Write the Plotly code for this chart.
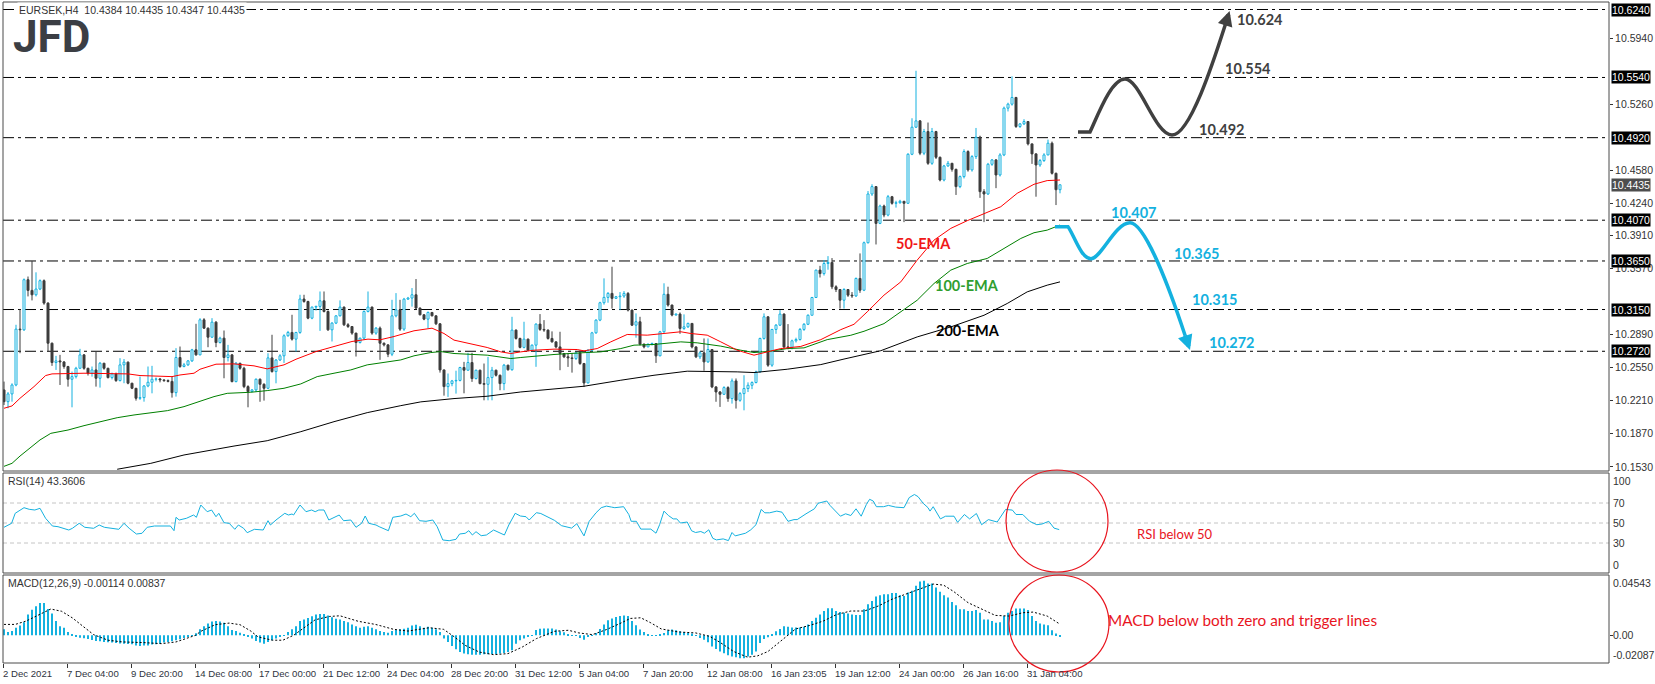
import plotly.graph_objects as go

# ---------------- data ----------------
title_text = "EURSEK,H4  10.4384 10.4435 10.4347 10.4435"
first_open = 10.2322
closes = [
    10.2201, 10.2281, 10.2373, 10.2948, 10.2941, 10.3457, 10.3347, 10.3302, 10.3361, 10.3447,
    10.3216, 10.2803, 10.2604, 10.2621, 10.2610, 10.2563, 10.2432, 10.2459, 10.2545, 10.2683,
    10.2545, 10.2494, 10.2528, 10.2442, 10.2597, 10.2545, 10.2449, 10.2487, 10.2418, 10.2580,
    10.2608, 10.2391, 10.2339, 10.2236, 10.2243, 10.2363, 10.2401, 10.2432, 10.2435, 10.2425,
    10.2418, 10.2410, 10.2294, 10.2656, 10.2563, 10.2580, 10.2621, 10.2735, 10.2683, 10.3044,
    10.2958, 10.2865, 10.3020, 10.2810, 10.2855, 10.2656, 10.2683, 10.2408, 10.2597, 10.2545,
    10.2356, 10.2305, 10.2322, 10.2432, 10.2380, 10.2339, 10.2652, 10.2511, 10.2630, 10.2673,
    10.2880, 10.2914, 10.2845, 10.2914, 10.3258, 10.3233, 10.3061, 10.3175, 10.3182, 10.3240,
    10.3130, 10.2941, 10.3010, 10.3085, 10.3175, 10.2993, 10.2975, 10.2907, 10.2810, 10.2855,
    10.3130, 10.3175, 10.2907, 10.2958, 10.2803, 10.2786, 10.2690, 10.3085, 10.3147, 10.2948,
    10.3257, 10.3268, 10.3302, 10.3165, 10.3096, 10.3051, 10.3120, 10.3085, 10.3003, 10.2528,
    10.2356, 10.2387, 10.2415, 10.2420, 10.2553, 10.2525, 10.2604, 10.2439, 10.2525, 10.2387,
    10.2380, 10.2449, 10.2525, 10.2473, 10.2387, 10.2577, 10.2530, 10.2938, 10.2852, 10.2760,
    10.2845, 10.2731, 10.2783, 10.3000, 10.2945, 10.2938, 10.2852, 10.2817, 10.2765, 10.2697,
    10.2663, 10.2652, 10.2645, 10.2704, 10.2594, 10.2394, 10.2731, 10.2910, 10.3041, 10.3220,
    10.3275, 10.3316, 10.3265, 10.3282, 10.3289, 10.3316, 10.3144, 10.2989, 10.3024, 10.2793,
    10.2765, 10.2793, 10.2800, 10.2673, 10.2921, 10.3307, 10.3196, 10.3093, 10.3103, 10.2955,
    10.2972, 10.3007, 10.2765, 10.2663, 10.2704, 10.2611, 10.2738, 10.2353, 10.2301, 10.2277,
    10.2346, 10.2233, 10.2415, 10.2215, 10.2284, 10.2336, 10.2370, 10.2398, 10.2508, 10.2852,
    10.3075, 10.2577, 10.2945, 10.2989, 10.3103, 10.2765, 10.2760, 10.2828, 10.2841, 10.2945,
    10.2998, 10.3091, 10.3274, 10.3556, 10.3520, 10.3624, 10.3635, 10.3384, 10.3356, 10.3246,
    10.3356, 10.3298, 10.3290, 10.3470, 10.3349, 10.3838, 10.4340, 10.4416, 10.4037, 10.4216,
    10.4123, 10.4312, 10.4244, 10.4250, 10.4265, 10.4244, 10.4749, 10.5028, 10.5093, 10.4760,
    10.4983, 10.4656, 10.4983, 10.4718, 10.4484, 10.4629, 10.4656, 10.4594, 10.4416, 10.4519,
    10.4777, 10.4588, 10.4725, 10.4925, 10.4364, 10.4340, 10.4646, 10.4691, 10.4536, 10.4742,
    10.5224, 10.5265, 10.5334, 10.5035, 10.5062, 10.5086, 10.4856, 10.4753, 10.4639, 10.4684,
    10.4742, 10.4863, 10.4553, 10.4384, 10.4435,
]
highs = [
    10.2408, 10.2300, 10.2390, 10.2993, 10.3155, 10.3470, 10.3490, 10.3650, 10.3533, 10.3460,
    10.3460, 10.3225, 10.2810, 10.2673, 10.2683, 10.2620, 10.2570, 10.2511, 10.2560, 10.2745,
    10.2690, 10.2550, 10.2563, 10.2717, 10.2610, 10.2600, 10.2550, 10.2500, 10.2500, 10.2649,
    10.2640, 10.2615, 10.2395, 10.2342, 10.2459, 10.2370, 10.2563, 10.2570, 10.2450, 10.2445,
    10.2430, 10.2430, 10.2459, 10.2752, 10.2769, 10.2600, 10.2630, 10.2745, 10.3003, 10.3061,
    10.3061, 10.2965, 10.3061, 10.3030, 10.2870, 10.2934, 10.2786, 10.2690, 10.2610, 10.2600,
    10.2560, 10.2370, 10.2330, 10.2440, 10.2440, 10.2390, 10.2700, 10.2890, 10.2640, 10.2690,
    10.2895, 10.2930, 10.3096, 10.2920, 10.3302, 10.3302, 10.3240, 10.3180, 10.3190, 10.3336,
    10.3336, 10.3140, 10.3020, 10.3090, 10.3244, 10.3180, 10.3010, 10.2980, 10.2910, 10.2860,
    10.3140, 10.3336, 10.3180, 10.2970, 10.2975, 10.2810, 10.2790, 10.3250, 10.3319, 10.3250,
    10.3270, 10.3280, 10.3371, 10.3464, 10.3170, 10.3100, 10.3130, 10.3120, 10.3090, 10.3010,
    10.2530, 10.2491, 10.2425, 10.2520, 10.2560, 10.2611, 10.2704, 10.2704, 10.2530, 10.2530,
    10.2594, 10.2662, 10.2559, 10.2530, 10.2480, 10.2590, 10.2580, 10.3075, 10.2945, 10.2860,
    10.3024, 10.2850, 10.2790, 10.3007, 10.3103, 10.3041, 10.2945, 10.2925, 10.2820, 10.2921,
    10.2700, 10.2700, 10.2700, 10.2711, 10.2730, 10.2600, 10.2740, 10.2920, 10.3050, 10.3230,
    10.3471, 10.3330, 10.3591, 10.3290, 10.3330, 10.3340, 10.3330, 10.3150, 10.3110, 10.3075,
    10.2800, 10.2800, 10.2810, 10.2800, 10.2930, 10.3420, 10.3385, 10.3200, 10.3110, 10.3120,
    10.3100, 10.3015, 10.3010, 10.2770, 10.2720, 10.2852, 10.2852, 10.2740, 10.2360, 10.2310,
    10.2360, 10.2360, 10.2440, 10.2440, 10.2300, 10.2473, 10.2400, 10.2410, 10.2520, 10.2860,
    10.3110, 10.3080, 10.2950, 10.3000, 10.3144, 10.3110, 10.3000, 10.2840, 10.2860, 10.2960,
    10.3010, 10.3100, 10.3280, 10.3560, 10.3600, 10.3660, 10.3700, 10.3680, 10.3400, 10.3360,
    10.3370, 10.3360, 10.3330, 10.3480, 10.3728, 10.3850, 10.4370, 10.4440, 10.4420, 10.4230,
    10.4230, 10.4330, 10.4320, 10.4270, 10.4280, 10.4260, 10.4760, 10.5120, 10.5609, 10.5100,
    10.5010, 10.5076, 10.5020, 10.4990, 10.4725, 10.4640, 10.4680, 10.4660, 10.4600, 10.4530,
    10.4800, 10.4790, 10.4740, 10.5020, 10.4940, 10.4390, 10.4660, 10.4700, 10.4700, 10.4760,
    10.5240, 10.5280, 10.5551, 10.5340, 10.5070, 10.5110, 10.5090, 10.4860, 10.4760, 10.4700,
    10.4760, 10.4900, 10.4880, 10.4560, 10.4435,
]
lows = [
    10.2167, 10.2133, 10.2201, 10.2360, 10.2700, 10.2930, 10.3285, 10.3244, 10.3285, 10.3350,
    10.3199, 10.2717, 10.2570, 10.2528, 10.2373, 10.2540, 10.2356, 10.2143, 10.2440, 10.2540,
    10.2530, 10.2470, 10.2459, 10.2356, 10.2346, 10.2530, 10.2440, 10.2430, 10.2405, 10.2410,
    10.2391, 10.2380, 10.2330, 10.2212, 10.2219, 10.2201, 10.2350, 10.2287, 10.2410, 10.2400,
    10.2405, 10.2400, 10.2243, 10.2253, 10.2550, 10.2555, 10.2570, 10.2610, 10.2675, 10.2680,
    10.2950, 10.2762, 10.2860, 10.2762, 10.2800, 10.2442, 10.2615, 10.2400, 10.2400, 10.2530,
    10.2340, 10.2143, 10.2300, 10.2300, 10.2200, 10.2212, 10.2330, 10.2500, 10.2390, 10.2620,
    10.2600, 10.2870, 10.2830, 10.2717, 10.2900, 10.3220, 10.3050, 10.3050, 10.3140, 10.2930,
    10.3120, 10.2930, 10.2821, 10.3000, 10.3080, 10.2980, 10.2960, 10.2890, 10.2666, 10.2800,
    10.2840, 10.3120, 10.2890, 10.2890, 10.2632, 10.2770, 10.2660, 10.2670, 10.3070, 10.2930,
    10.2930, 10.3250, 10.3180, 10.3150, 10.3090, 10.3040, 10.2958, 10.3080, 10.2990, 10.2500,
    10.2263, 10.2250, 10.2360, 10.2284, 10.2410, 10.2287, 10.2520, 10.2405, 10.2430, 10.2380,
    10.2215, 10.2215, 10.2215, 10.2460, 10.2319, 10.2319, 10.2520, 10.2520, 10.2840, 10.2750,
    10.2750, 10.2720, 10.2720, 10.2560, 10.2930, 10.2920, 10.2840, 10.2810, 10.2750, 10.2525,
    10.2650, 10.2559, 10.2500, 10.2630, 10.2580, 10.2353, 10.2390, 10.2720, 10.2900, 10.3030,
    10.3200, 10.3220, 10.3160, 10.3260, 10.3144, 10.3270, 10.3130, 10.2980, 10.2860, 10.2780,
    10.2750, 10.2765, 10.2780, 10.2600, 10.2670, 10.2910, 10.3180, 10.3080, 10.3090, 10.2900,
    10.2940, 10.2960, 10.2750, 10.2650, 10.2640, 10.2520, 10.2600, 10.2340, 10.2200, 10.2147,
    10.2270, 10.2200, 10.2181, 10.2130, 10.2200, 10.2112, 10.2300, 10.2330, 10.2390, 10.2500,
    10.2840, 10.2560, 10.2560, 10.2900, 10.2980, 10.2750, 10.2740, 10.2740, 10.2810, 10.2830,
    10.2930, 10.2990, 10.3090, 10.3270, 10.3480, 10.3500, 10.3560, 10.3360, 10.3330, 10.3160,
    10.3160, 10.3280, 10.3270, 10.3280, 10.3322, 10.3340, 10.3830, 10.4320, 10.3820, 10.4030,
    10.4100, 10.4110, 10.4230, 10.4200, 10.4240, 10.4050, 10.4240, 10.4740, 10.5020, 10.4740,
    10.4740, 10.4640, 10.4640, 10.4700, 10.4470, 10.4470, 10.4620, 10.4570, 10.4330, 10.4400,
    10.4500, 10.4570, 10.4570, 10.4700, 10.4300, 10.4050, 10.4330, 10.4630, 10.4400, 10.4520,
    10.4730, 10.5190, 10.5250, 10.5020, 10.5020, 10.5050, 10.4840, 10.4650, 10.4312, 10.4620,
    10.4670, 10.4740, 10.4540, 10.4226, 10.4347,
]

ema50_bar = [0, 2, 4, 7.5, 10.4, 12, 20, 31, 34, 42, 44, 47.5, 49, 53, 57.5, 62.5, 65.8, 70, 73, 78,
             82.5, 87, 91, 94, 97.5, 102.5, 107, 110, 112.5, 116.7, 120.8, 124.2, 126.7, 129.2, 132.5,
             137.5, 143.3, 145, 148.3, 151.7, 155.8, 160.8, 165.8, 169.2, 171.7, 175.8, 179.2, 183.3,
             187.5, 190.8, 194.2, 199.2, 204.2, 209.2, 212.5, 215.8, 220, 224.2, 228.3, 232.5, 236.7,
             240.8, 245, 249.2, 253.3, 257.5, 260.8, 264]
ema50_val = [10.2133, 10.2157, 10.2236, 10.2356, 10.2470, 10.2487, 10.2494, 10.2487, 10.2470, 10.2459,
             10.2476, 10.2494, 10.2535, 10.2587, 10.2590, 10.2570, 10.2539, 10.2580, 10.2638, 10.2717,
             10.2769, 10.2821, 10.2845, 10.2838, 10.2872, 10.2931, 10.2958, 10.2903, 10.2835, 10.2800,
             10.2759, 10.2714, 10.2697, 10.2714, 10.2731, 10.2742, 10.2738, 10.2724, 10.2748, 10.2817,
             10.2893, 10.2886, 10.2910, 10.2921, 10.2903, 10.2886, 10.2817, 10.2731, 10.2680, 10.2714,
             10.2748, 10.2770, 10.2840, 10.2943, 10.2998, 10.3126, 10.3298, 10.3435, 10.3659, 10.3865,
             10.3986, 10.4065, 10.4133, 10.4209, 10.4347, 10.4440, 10.4478, 10.4484]
ema100_bar = [0, 2, 4, 7.5, 9, 11.7, 16, 20, 24.2, 28.3, 32.5, 36.7, 40.9, 45, 49.2, 52.5, 55.8, 61.7,
              65.8, 70, 74.2, 78.3, 82.5, 86.7, 90.8, 95, 99.2, 102.5, 106.7, 109.2, 112.5, 120.8, 126.7,
              129.2, 137.5, 144.2, 149.2, 154.2, 157.5, 162.5, 169.2, 173.3, 179.2, 184.2, 187.5, 191.7,
              195.8, 200, 205.8, 211.7, 215, 220, 224.2, 228.3, 232.5, 236.7, 240.8, 245.8, 250, 254.2,
              257.5, 260.8, 264]
ema100_val = [10.1535, 10.1566, 10.1641, 10.1755, 10.1807, 10.1875, 10.1909, 10.1954, 10.1995, 10.2036,
              10.2064, 10.2088, 10.2109, 10.2150, 10.2208, 10.2253, 10.2287, 10.2298, 10.2315, 10.2339,
              10.2384, 10.2459, 10.2494, 10.2528, 10.2580, 10.2607, 10.2631, 10.2673, 10.2707, 10.2717,
              10.2697, 10.2680, 10.2645, 10.2656, 10.2687, 10.2704, 10.2714, 10.2748, 10.2783, 10.2790,
              10.2817, 10.2807, 10.2773, 10.2731, 10.2707, 10.2721, 10.2748, 10.2755, 10.2840, 10.2885,
              10.2926, 10.3005, 10.3126, 10.3246, 10.3418, 10.3556, 10.3624, 10.3676, 10.3779, 10.3882,
              10.3941, 10.3968, 10.4020]
ema200_bar = [28.3, 36.7, 45, 52.5, 57.5, 65.8, 74.2, 82.5, 90.8, 99.2, 104.2, 112.5, 120.8, 129.2, 137.5,
              145, 154.2, 162.5, 170.8, 175, 183.3, 187.5, 191.7, 195.8, 200, 204.2, 210, 219.2, 228.3,
              236.7, 245, 250.8, 255.8, 260.8, 264]
ema200_val = [10.1505, 10.1566, 10.1652, 10.1709, 10.1744, 10.1799, 10.1892, 10.1995, 10.2088, 10.2160,
              10.2199, 10.2233, 10.2257, 10.2301, 10.2336, 10.2360, 10.2422, 10.2473, 10.2515, 10.2515,
              10.2508, 10.2501, 10.2515, 10.2535, 10.2559, 10.2583, 10.2640, 10.2726, 10.2868, 10.2971,
              10.3091, 10.3212, 10.3332, 10.3401, 10.3435]

rsi_bar = [0, 1.9, 2.8, 5.0, 6.3, 7.7, 9.0, 10.4, 12.1, 13.5, 16.2, 17.1, 18.8, 20.2, 22.4, 23.8, 25.1,
           27.3, 28.7, 30.0, 31.3, 33.1, 34.5, 35.8, 37.6, 41.6, 42.5, 43.0, 43.8, 45.6, 47.4, 48.1, 49.2,
           50.8, 51.9, 53.0, 53.7, 55.0, 56.3, 57.7, 58.6, 59.9, 60.8, 61.7, 62.6, 64.8, 66.0, 66.6, 68.0,
           70.2, 71.1, 72.0, 72.4, 74.0, 75.5, 76.9, 77.8, 78.7, 80.0, 81.2, 82.7, 83.8, 84.9, 86.7, 88.0,
           89.4, 90.3, 91.2, 93.0, 93.8, 96.1, 97.2, 99.2, 100.5, 101.7, 102.6, 103.9, 105.5, 107.2, 108.3,
           109.7, 111.3, 113.0, 113.9, 115.3, 116.2, 117.1, 118.0, 119.3, 120.6, 122.4, 123.8, 125.1, 126.2,
           127.8, 129.1, 130.5, 131.3, 133.1, 134.2, 135.9, 137.6, 139.4, 141.1, 141.9, 143.2, 144.1, 145.0,
           146.3, 148.0, 149.3, 150.6, 151.9, 152.7, 154.9, 156.2, 156.8, 158.1, 159.2, 161.7, 163.0, 163.9,
           165.0, 166.1, 167.3, 168.2, 169.1, 170.8, 171.9, 172.9, 174.2, 175.1, 176.2, 177.2, 178.1, 179.8,
           181.1, 182.0, 182.8, 183.7, 185.4, 186.7, 188.0, 189.3, 190.2, 191.4, 193.2, 194.5, 196.0, 197.5,
           198.3, 200.5, 202.6, 203.5, 205.7, 206.5, 208.2, 209.1, 210.4, 211.7, 213.0, 214.3, 215.6, 216.4,
           217.3, 218.1, 219.9, 221.1, 222.9, 225.0, 226.3, 227.6, 228.5, 229.8, 231.0, 231.5, 232.3, 234.1,
           235.4, 237.5, 238.4, 240.1, 241.4, 243.1, 244.4, 246.1, 248.3, 250.4, 252.1, 253.0, 254.7, 256.4,
           258.2, 259.5, 261.2, 262.5, 263.8]
rsi_val = [45.7, 49.7, 59.7, 65.3, 63.7, 63.0, 64.7, 54.7, 47.0, 46.3, 43.0, 44.7, 49.7, 45.7, 44.7, 48.0,
           45.7, 44.7, 43.7, 49.7, 44.7, 39.0, 39.7, 45.7, 47.0, 47.0, 42.3, 55.7, 53.0, 54.7, 58.0, 55.7,
           68.0, 61.3, 63.0, 56.3, 59.7, 50.3, 49.7, 43.7, 48.0, 44.7, 40.3, 42.0, 43.7, 43.0, 52.3, 48.0,
           53.0, 59.7, 58.0, 59.0, 58.0, 68.0, 61.3, 63.0, 61.3, 63.0, 63.0, 53.0, 55.7, 58.0, 52.3, 53.0,
           45.7, 49.7, 57.0, 49.7, 48.0, 46.3, 42.3, 55.7, 57.0, 59.0, 56.3, 59.7, 52.3, 51.7, 53.0, 46.3,
           33.0, 32.3, 33.7, 39.0, 39.7, 42.3, 38.0, 41.3, 37.3, 38.0, 43.0, 40.3, 38.0, 48.0, 59.7, 57.0,
           56.3, 53.0, 60.3, 59.5, 56.1, 52.7, 47.3, 45.9, 44.9, 49.3, 43.2, 37.1, 51.7, 60.2, 65.3, 66.9,
           65.9, 65.3, 66.3, 58.5, 51.7, 51.7, 43.9, 43.9, 39.8, 48.3, 61.9, 57.5, 54.1, 54.1, 50.0, 51.0,
           42.2, 40.5, 41.5, 39.8, 43.2, 34.7, 33.1, 34.1, 32.4, 40.5, 37.1, 38.1, 39.8, 43.2, 48.3, 63.6,
           60.2, 60.2, 61.9, 60.8, 51.7, 53.4, 53.4, 59.2, 64.2, 69.7, 72.0, 67.6, 60.8, 56.8, 59.2, 57.5,
           64.2, 56.8, 68.6, 73.7, 72.0, 66.3, 66.3, 67.6, 65.9, 65.3, 75.4, 78.5, 76.4, 69.7, 65.3, 61.9,
           66.3, 54.1, 56.8, 56.8, 50.7, 58.5, 54.1, 59.5, 48.3, 53.4, 51.0, 63.6, 62.9, 58.5, 58.5, 51.7,
           48.3, 49.0, 51.7, 44.9, 43.4]

macd_hist = [
    0.0045, 0.0025, 0.0032, 0.0057, 0.0074, 0.0099, 0.0156, 0.0193, 0.0218, 0.0243,
    0.0243, 0.0198, 0.0164, 0.0107, 0.0069, 0.0057, 0.0025, 0.0007, -0.0012, -0.0018,
    -0.0022, -0.0028, -0.0035, -0.0043, -0.0045, -0.0050, -0.0052, -0.0055, -0.0058, -0.0061,
    -0.0063, -0.0065, -0.0068, -0.0076, -0.0080, -0.0077, -0.0076, -0.0070, -0.0068, -0.0063,
    -0.0055, -0.0050, -0.0045, -0.0037, -0.0030, -0.0021, -0.0012, -0.0005, 0.0015, 0.0045,
    0.0069, 0.0089, 0.0104, 0.0107, 0.0104, 0.0094, 0.0069, 0.0040, 0.0032, 0.0020,
    0.0007, -0.0007, -0.0025, -0.0043, -0.0055, -0.0063, -0.0050, -0.0037, -0.0025, -0.0012,
    -0.0003, 0.0025, 0.0045, 0.0069, 0.0107, 0.0119, 0.0131, 0.0144, 0.0156, 0.0161,
    0.0161, 0.0149, 0.0136, 0.0124, 0.0119, 0.0107, 0.0099, 0.0082, 0.0069, 0.0057,
    0.0064, 0.0069, 0.0057, 0.0045, 0.0032, 0.0025, 0.0020, 0.0032, 0.0040, 0.0045,
    0.0050, 0.0057, 0.0074, 0.0079, 0.0069, 0.0057, 0.0064, 0.0057, 0.0045, 0.0025,
    -0.0025, -0.0050, -0.0080, -0.0105, -0.0126, -0.0138, -0.0143, -0.0146, -0.0146, -0.0146,
    -0.0143, -0.0143, -0.0141, -0.0141, -0.0138, -0.0133, -0.0126, -0.0113, -0.0063, -0.0037,
    -0.0025, -0.0012, -0.0005, 0.0040, 0.0050, 0.0051, 0.0051, 0.0051, 0.0043, 0.0030,
    0.0023, 0.0003, 0.0002, 0.0001, -0.0020, -0.0033, -0.0008, 0.0002, 0.0018, 0.0048,
    0.0081, 0.0114, 0.0127, 0.0137, 0.0145, 0.0150, 0.0145, 0.0107, 0.0076, 0.0043,
    0.0025, 0.0005, 0.0002, 0.0002, 0.0003, 0.0018, 0.0038, 0.0043, 0.0038, 0.0030,
    0.0025, 0.0018, 0.0013, 0.0001, -0.0020, -0.0033, -0.0053, -0.0084, -0.0104, -0.0122,
    -0.0135, -0.0150, -0.0160, -0.0165, -0.0173, -0.0173, -0.0160, -0.0147, -0.0122, -0.0058,
    -0.0028, -0.0015, 0.0008, 0.0030, 0.0048, 0.0069, 0.0064, 0.0058, 0.0058, 0.0058,
    0.0064, 0.0081, 0.0107, 0.0132, 0.0157, 0.0183, 0.0203, 0.0203, 0.0183, 0.0175,
    0.0170, 0.0165, 0.0157, 0.0152, 0.0152, 0.0196, 0.0234, 0.0259, 0.0292, 0.0302,
    0.0310, 0.0310, 0.0318, 0.0318, 0.0302, 0.0297, 0.0323, 0.0335, 0.0373, 0.0406,
    0.0411, 0.0391, 0.0391, 0.0361, 0.0328, 0.0302, 0.0284, 0.0251, 0.0226, 0.0196,
    0.0196, 0.0183, 0.0183, 0.0190, 0.0170, 0.0119, 0.0119, 0.0107, 0.0094, 0.0099,
    0.0145, 0.0170, 0.0183, 0.0201, 0.0201, 0.0201, 0.0190, 0.0145, 0.0107, 0.0089,
    0.0081, 0.0076, 0.0038, 0.0013, -0.00114,
]
signal_bar = [0, 2.8, 5.5, 8.1, 11.7, 14.4, 17.1, 19.7, 22.4, 26, 29.6, 34.9, 39.4, 43, 45.6, 47.9, 49.2,
              52.8, 56.3, 59, 61.7, 63.5, 67.1, 69.7, 72.4, 75.1, 77.8, 81.4, 84, 88.5, 93, 97.4, 101,
              106.3, 109.9, 112.6, 115.3, 118.8, 122.4, 126, 129.6, 133.1, 135.1, 137.6, 141.1, 143.7,
              147.1, 150.6, 154, 156.6, 159.2, 161.7, 164.3, 168.6, 172.9, 176.4, 179, 182.4, 185.9, 188.4,
              191, 194.5, 197.9, 201.4, 204.8, 208.2, 211.7, 215.1, 218.6, 222, 225.5, 228.9, 232.3, 234.9,
              237.5, 241, 244.4, 247.8, 251.3, 254.7, 257.3, 260.8, 264]
signal_val = [0.0082, 0.0082, 0.0107, 0.0144, 0.0198, 0.0181, 0.0131, 0.0069, 0.0005, -0.0037, -0.0050,
              -0.0055, -0.0063, -0.0050, -0.0025, 0.0000, 0.0030, 0.0080, 0.0092, 0.0080, 0.0032, -0.0012,
              -0.0037, -0.0037, 0.0000, 0.0057, 0.0117, 0.0142, 0.0147, 0.0106, 0.0081, 0.0045, 0.0032,
              0.0057, 0.0045, -0.0012, -0.0076, -0.0126, -0.0146, -0.0138, -0.0088, -0.0025, 0.0000,
              0.0030, 0.0038, 0.0018, 0.0005, 0.0043, 0.0089, 0.0127, 0.0132, 0.0094, 0.0048, 0.0025,
              0.0018, -0.0008, -0.0053, -0.0122, -0.0165, -0.0155, -0.0122, -0.0033, 0.0048, 0.0074,
              0.0107, 0.0157, 0.0183, 0.0183, 0.0221, 0.0272, 0.0310, 0.0353, 0.0386, 0.0378, 0.0328,
              0.0246, 0.0196, 0.0150, 0.0145, 0.0170, 0.0175, 0.0145, 0.00837]

levels = [10.6240, 10.5540, 10.4920, 10.4070, 10.3650, 10.3150, 10.2720]
last_price = 10.4435
price_ticks = [10.1530, 10.1870, 10.2210, 10.2550, 10.2890, 10.3570, 10.3910, 10.4240,
               10.4580, 10.5260, 10.5940]
rsi_levels = [70, 50, 30]
date_bars = [0, 16, 32, 48, 64, 80, 96, 112, 128, 144, 160, 176, 192, 208, 224, 240, 256]
date_labels = ["2 Dec 2021", "7 Dec 04:00", "9 Dec 20:00", "14 Dec 08:00", "17 Dec 00:00",
               "21 Dec 12:00", "24 Dec 04:00", "28 Dec 20:00", "31 Dec 12:00", "5 Jan 04:00",
               "7 Jan 20:00", "12 Jan 08:00", "16 Jan 23:05", "19 Jan 12:00", "24 Jan 00:00",
               "26 Jan 16:00", "31 Jan 04:00"]

# scenario sketches (bar index, price) drawn on the chart
up_path = [(268.5, 10.4978), (271.5, 10.4978), (274, 10.5205), (277, 10.5524), (280.25, 10.5524),
           (284, 10.5524), (287.75, 10.4947), (292, 10.4947), (296.5, 10.4947), (302.5, 10.5720),
           (305.3, 10.6080)]
up_tip = (306.4, 10.6225)
down_path = [(262.75, 10.4003), (266, 10.4003), (267.5, 10.3920), (269.25, 10.3673), (271.75, 10.3673),
             (274.25, 10.3673), (277.75, 10.4044), (281.5, 10.4044), (285.25, 10.4044), (291.5, 10.3354),
             (295.3, 10.2880)]
down_tip = (296.5, 10.2733)
up_targets = ["10.624", "10.554", "10.492"]
down_targets = ["10.407", "10.365", "10.315", "10.272"]

# ---------------- layout constants ----------------
W, H = 1655, 684
ML, MR, MT, MB = 3, 46, 3, 21
PW, PH = W - ML - MR, H - MT - MB
CYAN = "#14b1df"
BEAR = "#3d3d3d"
DARK = "#404040"
TXT = "#333333"
AX_FONT = dict(family="Liberation Sans, Arial, sans-serif", size=10.5, color=TXT)
DATE_FONT = dict(family="Liberation Sans, Arial, sans-serif", size=9.6, color="#2f3340")


def px_x(x):
    return (x - ML) / PW


def px_y(y):
    return 1 - (y - MT) / PH


main_dom = [px_y(471), 1.0]
rsi_dom = [px_y(573), px_y(472)]
macd_dom = [0.0, px_y(575)]

fig = go.Figure()

# ---- candles: wicks (open = previous close) ----
opens = [first_open] + closes[:-1]
wk = {"bull": ([], []), "bear": ([], [])}
bodies = {"bull": ([], [], []), "bear": ([], [], [])}
for i, (o, h, l, c) in enumerate(zip(opens, highs, lows, closes)):
    key = "bull" if c >= o else "bear"
    top, bot = max(o, c), min(o, c)
    wx, wy = wk[key]
    wx += [i, i, None, i, i, None]
    wy += [max(h, top), top, None, bot, min(l, bot), None]
    bx, bb, bh = bodies[key]
    bx.append(i)
    bb.append(bot)
    bh.append(max(top - bot, 0.00012))

fig.add_trace(go.Scatter(x=wk["bull"][0], y=wk["bull"][1], mode="lines",
                         line=dict(color=CYAN, width=1), xaxis="x", yaxis="y"))
fig.add_trace(go.Scatter(x=wk["bear"][0], y=wk["bear"][1], mode="lines",
                         line=dict(color=BEAR, width=1), xaxis="x", yaxis="y"))
fig.add_trace(go.Bar(x=bodies["bull"][0], y=bodies["bull"][2], base=bodies["bull"][1], width=0.5,
                     marker=dict(color="white", line=dict(color=CYAN, width=1)), xaxis="x", yaxis="y"))
fig.add_trace(go.Bar(x=bodies["bear"][0], y=bodies["bear"][2], base=bodies["bear"][1], width=0.5,
                     marker=dict(color=BEAR, line=dict(color=BEAR, width=1)), xaxis="x", yaxis="y"))

# ---- EMAs ----
fig.add_trace(go.Scatter(x=ema200_bar, y=ema200_val, mode="lines", line=dict(color="#000000", width=1),
                         xaxis="x", yaxis="y"))
fig.add_trace(go.Scatter(x=ema100_bar, y=ema100_val, mode="lines", line=dict(color="#008000", width=1),
                         xaxis="x", yaxis="y"))
fig.add_trace(go.Scatter(x=ema50_bar, y=ema50_val, mode="lines", line=dict(color="#ff0000", width=1),
                         xaxis="x", yaxis="y"))

# ---- RSI ----
fig.add_trace(go.Scatter(x=rsi_bar, y=rsi_val, mode="lines", line=dict(color=CYAN, width=1),
                         xaxis="x", yaxis="y2"))

# ---- MACD ----
fig.add_trace(go.Bar(x=list(range(len(macd_hist))), y=macd_hist, width=0.3,
                     marker=dict(color=CYAN, line=dict(width=0)), xaxis="x", yaxis="y3"))
fig.add_trace(go.Scatter(x=signal_bar, y=signal_val, mode="lines",
                         line=dict(color="#000000", width=1, dash="2px,2px"), xaxis="x", yaxis="y3"))

shapes = []
for lv in levels:
    shapes.append(dict(type="line", xref="paper", yref="y", x0=0, x1=1, y0=lv, y1=lv,
                       line=dict(color="#000000", width=1, dash="11px,4px,3px,4px"), layer="below"))
for lv in rsi_levels:
    shapes.append(dict(type="line", xref="paper", yref="y2", x0=0, x1=1, y0=lv, y1=lv,
                       line=dict(color="#c4c4c4", width=1, dash="4px,3px"), layer="below"))


def bezier_path(pts):
    s = f"M {pts[0][0]},{pts[0][1]} L {pts[1][0]},{pts[1][1]}"
    for k in range(2, len(pts), 3):
        a, b, c = pts[k], pts[k + 1], pts[k + 2]
        s += f" C {a[0]},{a[1]} {b[0]},{b[1]} {c[0]},{c[1]}"
    return s


shapes.append(dict(type="path", xref="x", yref="y", path=bezier_path(up_path),
                   line=dict(color=DARK, width=3.5)))
shapes.append(dict(type="path", xref="x", yref="y", path=bezier_path(down_path),
                   line=dict(color=CYAN, width=3.5)))

for top, bot in [(2, 471), (473, 573), (575, 663)]:
    shapes.append(dict(type="rect", xref="paper", yref="paper", x0=px_x(3), x1=px_x(1609),
                       y0=px_y(bot), y1=px_y(top), line=dict(color="#4a4a4a", width=1)))

shapes.append(dict(type="circle", xref="paper", yref="paper", x0=px_x(1006), x1=px_x(1108),
                   y0=px_y(572), y1=px_y(470), line=dict(color="#e8141e", width=1.2)))
shapes.append(dict(type="circle", xref="paper", yref="paper", x0=px_x(1009), x1=px_x(1109),
                   y0=px_y(672), y1=px_y(575), line=dict(color="#e8141e", width=1.2)))

ann = []


def text_px(x, y, text, font, xanchor="center", bg=None):
    d = dict(xref="paper", yref="paper", x=px_x(x), y=px_y(y), text=text, showarrow=False,
             xanchor=xanchor, yanchor="middle", font=font)
    if bg:
        d["bgcolor"] = bg
    ann.append(d)


text_px(17, 10, title_text, AX_FONT, xanchor="left", bg="white")
text_px(11, 37, "JFD", dict(family="Roboto, Arial, sans-serif", size=44, color="#3b3e44", weight=700),
        xanchor="left")
text_px(6, 481, "RSI(14) 43.3606", AX_FONT, xanchor="left")
text_px(6, 583, "MACD(12,26,9) -0.00114 0.00837", AX_FONT, xanchor="left")

for lv in levels:
    ann.append(dict(xref="paper", yref="y", x=1, y=lv, xanchor="left", yanchor="middle", xshift=2,
                    text=f"{lv:.4f}", showarrow=False, bgcolor="#000000", borderpad=0,
                    font=dict(family=AX_FONT["family"], size=10.5, color="white")))
ann.append(dict(xref="paper", yref="y", x=1, y=last_price, xanchor="left", yanchor="middle", xshift=2,
                text=f"{last_price:.4f}", showarrow=False, bgcolor="#4d4d4d", borderpad=0,
                font=dict(family=AX_FONT["family"], size=10.5, color="white")))

for val, anchor in [(100, "top"), (70, "middle"), (50, "middle"), (30, "middle"), (0, "bottom")]:
    ann.append(dict(xref="paper", yref="y2", x=1, y=val, xanchor="left", yanchor=anchor, xshift=2,
                    text=str(val), showarrow=False, font=AX_FONT))
for val, txt, anchor in [(0.04543, "0.04543", "top"), (0.0, "0.00", "middle"), (-0.02087, "-0.02087", "bottom")]:
    ann.append(dict(xref="paper", yref="y3", x=1, y=val, xanchor="left", yanchor=anchor, xshift=2,
                    text=txt, showarrow=False, font=AX_FONT))

for b, lab in zip(date_bars, date_labels):
    ann.append(dict(xref="x", yref="paper", x=b - 0.25, y=px_y(673), xanchor="left", yanchor="middle",
                    xshift=-2, text=lab, showarrow=False, font=DATE_FONT))

BOLD = dict(family="Lato, Open Sans, sans-serif", size=14.5, weight=700)
text_px(924, 243, "50-EMA", dict(BOLD, color="#f01818"))
text_px(967, 286, "100-EMA", dict(BOLD, color="#2f9e2f"))
text_px(968, 330, "200-EMA", dict(BOLD, color="#000000"))

for t, (x, y) in zip(up_targets, [(1260, 19), (1248, 69), (1222, 129)]):
    text_px(x, y, t, dict(BOLD, color=DARK))
for t, (x, y) in zip(down_targets, [(1134, 212), (1197, 253), (1215, 300), (1232, 342)]):
    text_px(x, y, t, dict(BOLD, color=CYAN))

ann.append(dict(xref="x", yref="y", x=up_tip[0], y=up_tip[1], ax=-5, ay=16, text="", showarrow=True,
                arrowhead=2, arrowsize=0.75, arrowwidth=4, arrowcolor=DARK))
ann.append(dict(xref="x", yref="y", x=down_tip[0], y=down_tip[1], ax=-5.5, ay=-16, text="", showarrow=True,
                arrowhead=2, arrowsize=0.75, arrowwidth=4, arrowcolor=CYAN))

text_px(1135, 534, "RSI below 50", dict(family="Lato, Open Sans, sans-serif", size=13, color="#e8141e"),
        xanchor="left")
text_px(1106, 620, "MACD below both zero and trigger lines",
        dict(family="Lato, Open Sans, sans-serif", size=15.3, color="#e8141e"), xanchor="left")

fig.update_layout(
    width=W, height=H, margin=dict(l=ML, r=MR, t=MT, b=MB),
    paper_bgcolor="white", plot_bgcolor="white", showlegend=False, hovermode=False,
    barmode="overlay",
    xaxis=dict(domain=[0, 1], range=[-0.25, 401.25], anchor="y3", showgrid=False, zeroline=False,
               tickvals=[b - 0.25 for b in date_bars], ticks="outside", ticklen=4, tickcolor=TXT,
               showticklabels=False, showline=False),
    yaxis=dict(domain=main_dom, range=[10.1487, 10.6307], anchor="x", side="right", showgrid=False,
               zeroline=False, tickvals=price_ticks, ticktext=[f"{v:.4f}" for v in price_ticks],
               ticks="outside", ticklen=3, tickcolor=TXT, tickfont=AX_FONT, showline=False),
    yaxis2=dict(domain=rsi_dom, range=[0, 101], anchor="x", side="right", showgrid=False, zeroline=False,
                showticklabels=False, ticks=""),
    yaxis3=dict(domain=macd_dom, range=[-0.02087, 0.04543], anchor="x", side="right", showgrid=False,
                zeroline=False, tickvals=[0], ticks="outside", ticklen=3, tickcolor=TXT,
                showticklabels=False),
    shapes=shapes, annotations=ann,
)

fig.write_html("out.html")
